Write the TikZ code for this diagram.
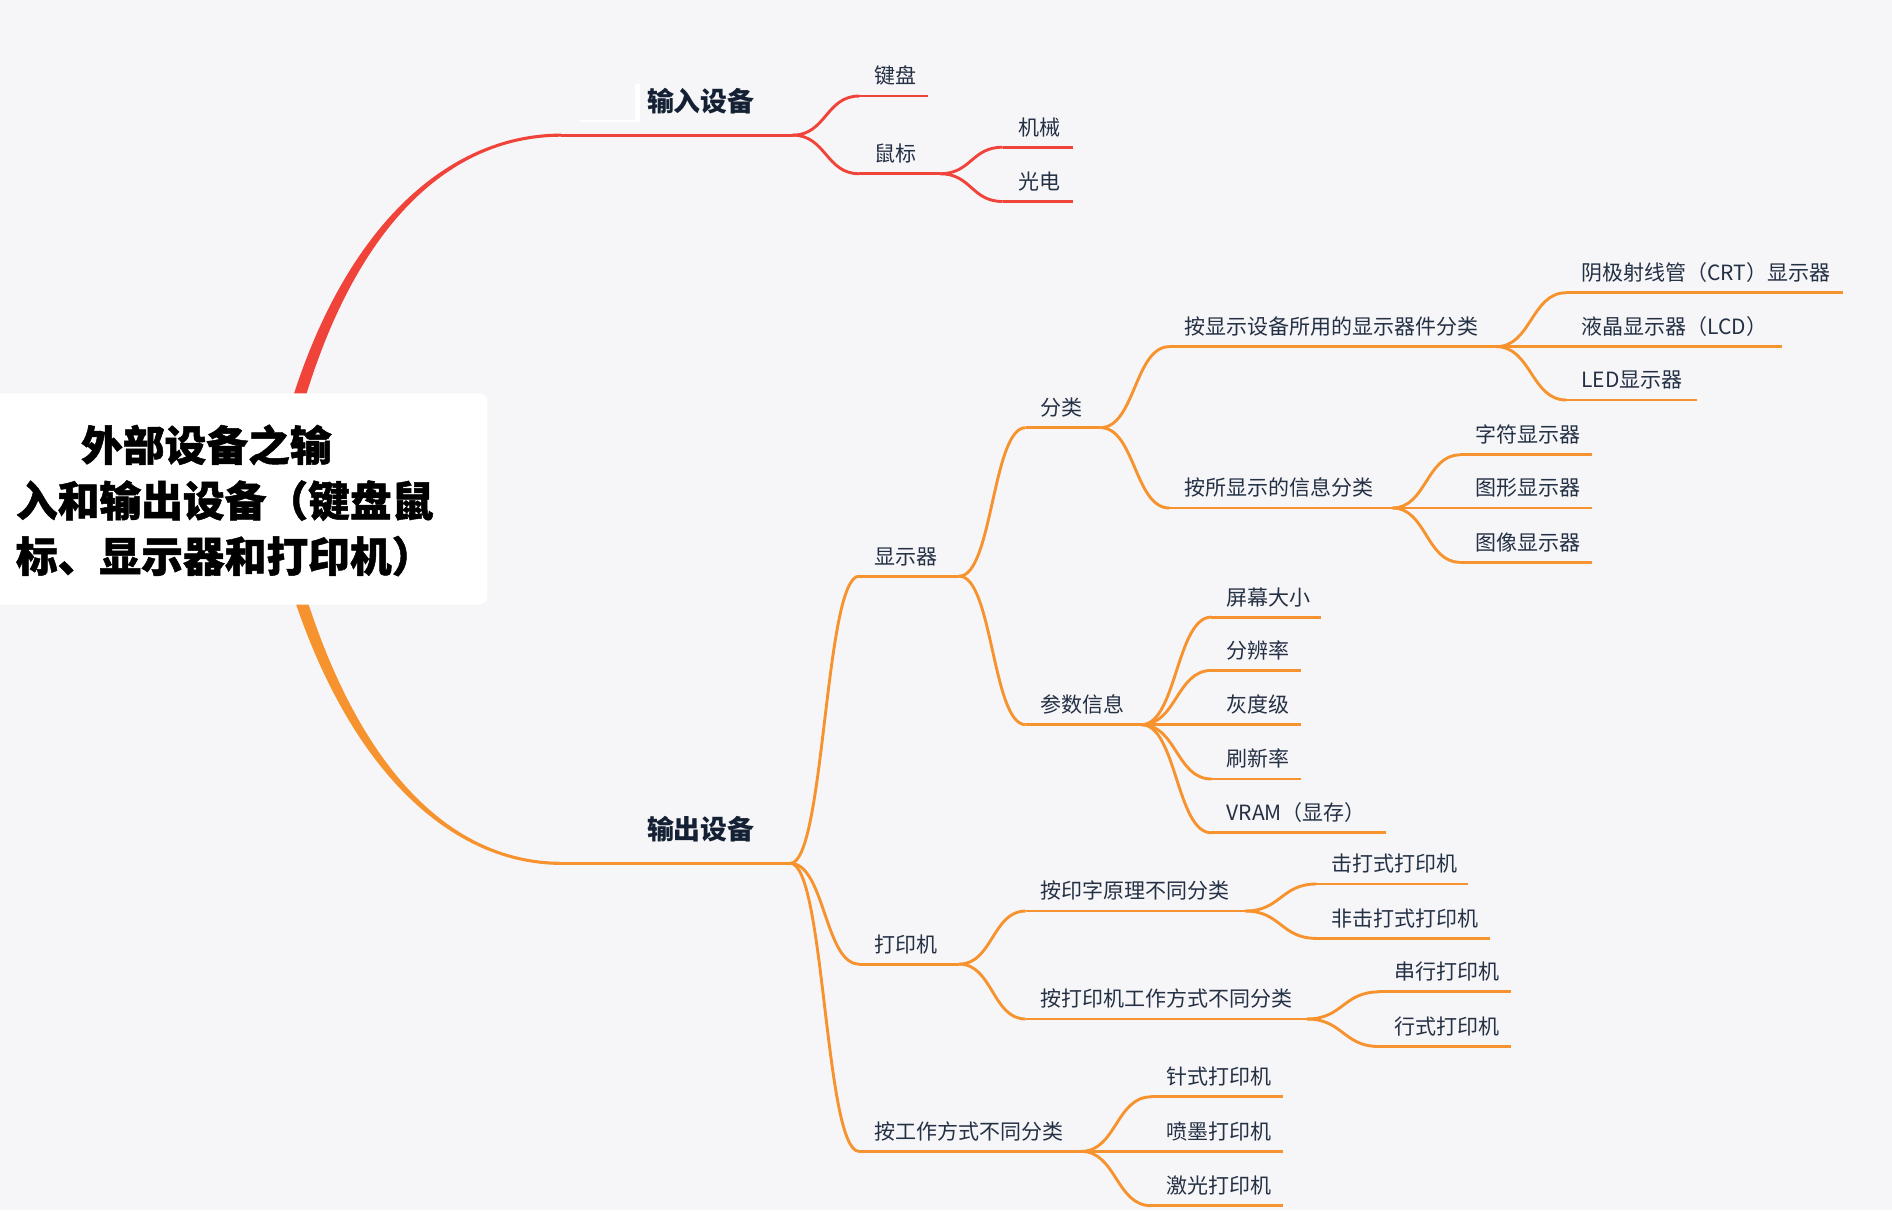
\documentclass[tikz,border=0pt]{standalone}
\usepackage{fontspec}
\setmainfont{Noto Sans CJK SC}
\newfontfamily\mmrootfont[BoldFeatures={FakeBold=1.2}]{Noto Sans CJK SC}
\usetikzlibrary{calc}
\definecolor{bg}{HTML}{F6F6F8}
\definecolor{mmred}{HTML}{F0443A}
\definecolor{mmorange}{HTML}{F7932E}
\definecolor{mmtext}{HTML}{243044}
\definecolor{mmdark}{HTML}{142033}
\tikzset{
  branch/.style={line width=2.4pt, line cap=butt},
  leaf/.style={anchor=base west, inner sep=0pt, text=mmtext, font=\fontsize{17.4}{20}\selectfont},
  lonetxt/.style={anchor=base west, inner sep=0pt, text=mmdark, font=\fontsize{22.3}{26}\selectfont\bfseries},
  roottxt/.style={anchor=base west, inner sep=0pt, text=black, font=\mmrootfont\fontsize{34.6}{40}\selectfont\bfseries},
}
\newcommand\mmtopic[6]{%
  \coordinate (#1-s) at (#2,#4);
  \coordinate (#1-e) at (#3,#4);
  \draw[branch,#5] (#1-s) -- (#1-e);
  \node[leaf] (#1) at ($(#1-s)+(12.5,-10)$) {#6};
}
\newcommand\mmconn[3]{%
  \draw[branch,#3] let \p1=(#1-e), \p2=(#2-s) in
    (\p1) .. controls ({0.5*\x1+0.5*\x2},\y1) and ({0.5*\x1+0.5*\x2},\y2) .. (\p2);
}
\begin{document}
\begin{tikzpicture}[x=1pt,y=-1pt]
\useasboundingbox (0,0) rectangle (1568,1014);
\fill[white] (0,0) rectangle (1568,1014);
\fill[bg] (0,0) rectangle (1568,1003);

% root centre and level-1 branch starts
\coordinate (root-c) at (227,414);
\coordinate (in-s) at (465,112);
\coordinate (in-e) at (657,112);
\coordinate (out-s) at (465,715.5);
\coordinate (out-e) at (655,715.5);

% tapered main branches
\fill[mmred] ($(root-c)+(-5.5,0)$) .. controls (262,200) and (365,110.7) .. ($(in-s)+(0,-1.3)$)
  -- ($(in-s)+(0,1.3)$) .. controls (365,113.3) and (273,200) .. ($(root-c)+(5.5,0)$) -- cycle;
\fill[mmorange] ($(root-c)+(-5.5,0)$) .. controls (268,630) and (370,716.8) .. ($(out-s)+(0,1.3)$)
  -- ($(out-s)+(0,-1.3)$) .. controls (370,714.2) and (279,630) .. ($(root-c)+(5.5,0)$) -- cycle;

\draw[branch,mmred] (in-s) -- (in-e);
\draw[branch,mmorange] (out-s) -- (out-e);

% small white artefact near the input label
\fill[white] (526.5,70) rectangle (530,101);
\fill[white] (481,99.6) rectangle (530,101);

\node[lonetxt] (inlab) at (536,92.5) {输入设备};
\node[lonetxt] (outlab) at (536,695.5) {输出设备};

% root box
\fill[white, rounded corners=7pt] (-20,326) rectangle (404,501);
\node[roottxt] (rootA) at (67,382) {外部设备之输};
\node[roottxt] (rootB) at (13,428) {入和输出设备（键盘鼠};
\node[roottxt] (rootC) at (13,474) {标、显示器和打印机）};

% input devices
\mmtopic{key}{712}{769}{79.6}{mmred}{键盘}
\mmtopic{mouse}{712}{779}{144}{mmred}{鼠标}
\mmtopic{mech}{831}{889}{122}{mmred}{机械}
\mmtopic{opt}{831}{889}{167}{mmred}{光电}
\mmconn{in}{key}{mmred}
\mmconn{in}{mouse}{mmred}
\mmconn{mouse}{mech}{mmred}
\mmconn{mouse}{opt}{mmred}

% output devices
\mmtopic{disp}{712}{795}{477.5}{mmorange}{显示器}
\mmtopic{cls}{850}{912}{354.4}{mmorange}{分类}
\mmtopic{bydev}{969}{1240}{287.3}{mmorange}{按显示设备所用的显示器件分类}
\mmtopic{crt}{1298}{1527}{242.6}{mmorange}{阴极射线管（CRT）显示器}
\mmtopic{lcd}{1298}{1477}{287.3}{mmorange}{液晶显示器（LCD）}
\mmtopic{led}{1298}{1406}{331.5}{mmorange}{LED显示器}
\mmtopic{byinfo}{969}{1154}{421}{mmorange}{按所显示的信息分类}
\mmtopic{chr}{1210}{1319}{377}{mmorange}{字符显示器}
\mmtopic{gfx}{1210}{1319}{421}{mmorange}{图形显示器}
\mmtopic{img}{1210}{1319}{466}{mmorange}{图像显示器}
\mmtopic{par}{850}{946}{600.6}{mmorange}{参数信息}
\mmtopic{size}{1004}{1095}{511.4}{mmorange}{屏幕大小}
\mmtopic{res}{1004}{1078}{555.6}{mmorange}{分辨率}
\mmtopic{gray}{1004}{1078}{600.6}{mmorange}{灰度级}
\mmtopic{rate}{1004}{1078}{645.6}{mmorange}{刷新率}
\mmtopic{vram}{1004}{1149}{690.2}{mmorange}{VRAM（显存）}
\mmtopic{prn}{712}{795}{799}{mmorange}{打印机}
\mmtopic{prin}{850}{1032}{755}{mmorange}{按印字原理不同分类}
\mmtopic{imp}{1091}{1217}{732.6}{mmorange}{击打式打印机}
\mmtopic{nimp}{1091}{1235}{777.7}{mmorange}{非击打式打印机}
\mmtopic{mode}{850}{1083}{844.5}{mmorange}{按打印机工作方式不同分类}
\mmtopic{ser}{1143}{1252}{822}{mmorange}{串行打印机}
\mmtopic{lin}{1143}{1252}{867.3}{mmorange}{行式打印机}
\mmtopic{work}{712}{896}{954.2}{mmorange}{按工作方式不同分类}
\mmtopic{dot}{954}{1063}{909}{mmorange}{针式打印机}
\mmtopic{ink}{954}{1063}{954.2}{mmorange}{喷墨打印机}
\mmtopic{las}{954}{1063}{999.2}{mmorange}{激光打印机}

\mmconn{out}{disp}{mmorange}
\mmconn{out}{prn}{mmorange}
\mmconn{out}{work}{mmorange}
\mmconn{disp}{cls}{mmorange}
\mmconn{disp}{par}{mmorange}
\mmconn{cls}{bydev}{mmorange}
\mmconn{cls}{byinfo}{mmorange}
\mmconn{bydev}{crt}{mmorange}
\mmconn{bydev}{lcd}{mmorange}
\mmconn{bydev}{led}{mmorange}
\mmconn{byinfo}{chr}{mmorange}
\mmconn{byinfo}{gfx}{mmorange}
\mmconn{byinfo}{img}{mmorange}
\mmconn{par}{size}{mmorange}
\mmconn{par}{res}{mmorange}
\mmconn{par}{gray}{mmorange}
\mmconn{par}{rate}{mmorange}
\mmconn{par}{vram}{mmorange}
\mmconn{prn}{prin}{mmorange}
\mmconn{prn}{mode}{mmorange}
\mmconn{prin}{imp}{mmorange}
\mmconn{prin}{nimp}{mmorange}
\mmconn{mode}{ser}{mmorange}
\mmconn{mode}{lin}{mmorange}
\mmconn{work}{dot}{mmorange}
\mmconn{work}{ink}{mmorange}
\mmconn{work}{las}{mmorange}
\end{tikzpicture}
\end{document}
